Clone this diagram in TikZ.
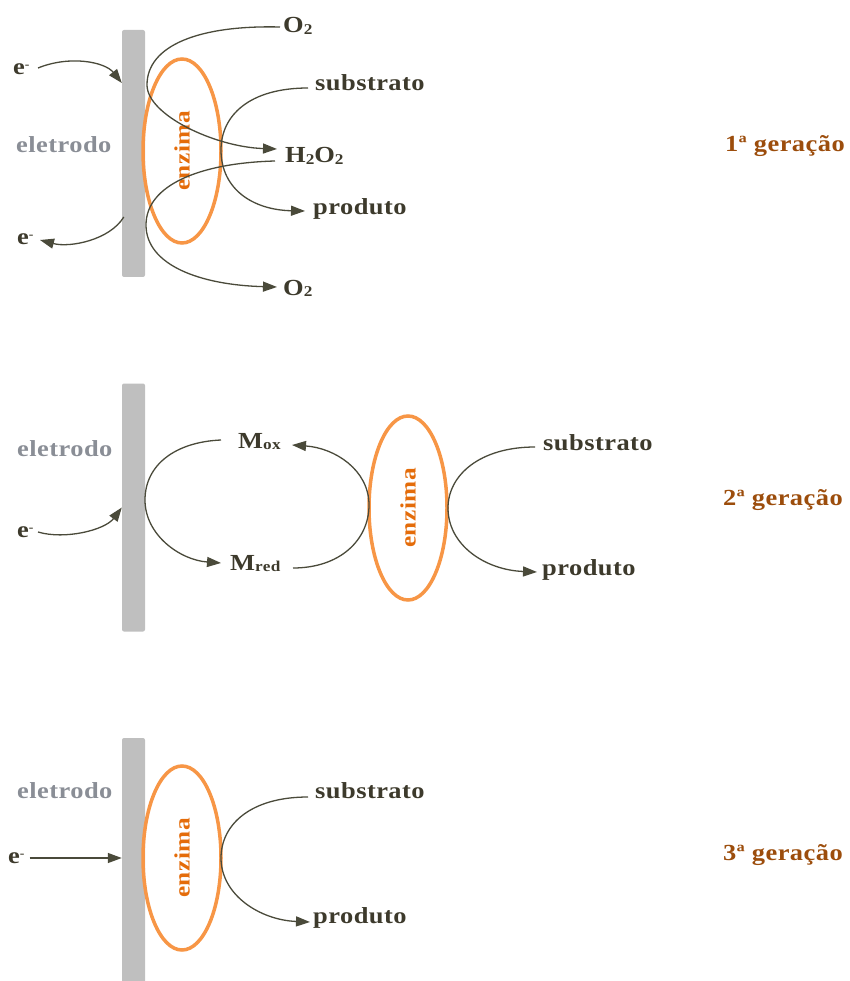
\documentclass[tikz,border=0pt]{standalone}
\usepackage{fontspec}
\setmainfont{Liberation Serif}[FakeStretch=1.15,LetterSpace=2]
\usetikzlibrary{arrows.meta,calc}
\definecolor{txt}{HTML}{3D3A2C}
\definecolor{lin}{HTML}{4A4A3A}
\definecolor{elec}{HTML}{BFBFBF}
\definecolor{eltxt}{HTML}{8A8E96}
\definecolor{enz}{HTML}{F79646}
\definecolor{enztxt}{HTML}{E46C0A}
\definecolor{gen}{HTML}{9C4D0C}
\newcommand{\sbx}[1]{\raisebox{-1.5pt}{\fontsize{15}{15}\selectfont #1}}
\newcommand{\elec}{e\raisebox{6pt}{\fontsize{12}{12}\selectfont -}}
\tikzset{
  lbl/.style={anchor=base west,inner sep=0pt,text=txt,font=\bfseries\fontsize{23}{23}\selectfont},
  eltext/.style={lbl,text=eltxt},
  gentext/.style={lbl,text=gen},
  electrode/.style={fill=elec,draw=none,rounded corners=2pt,minimum width=23pt,inner sep=0pt},
  enzyme/.style={draw=enz,line width=3.5pt,ellipse,minimum width=78pt,minimum height=184pt,inner sep=0pt},
  enzlabel/.style={text=enztxt,rotate=90,inner sep=0pt,font=\bfseries\fontsize{22}{22}\selectfont},
  conn/.style={draw=lin,line width=1.3pt},
  arr/.style={conn,-{Triangle[length=14pt,width=10pt]}}
}
\usetikzlibrary{shapes.geometric}
\begin{document}
\begin{tikzpicture}[x=1pt,y=-1pt]
\useasboundingbox (0,0) rectangle (850,981);
% ---------- panel 1 ----------
\node[electrode,minimum height=247pt] (el1) at (133.5,153.5) {};
\node[enzyme] (enz1) at (182,151) {};
\node[enzlabel] (enzl1) at (182,151) {enzima};
\node[eltext] (eletr1) at (16,153) {eletrodo};
\node[lbl] (e1t) at (13,75) {\elec};
\node[lbl] (e1b) at (17,245) {\elec};
\node[lbl] (o2t) at (283,33) {O\sbx{2}};
\node[lbl] (h2o2) at (285,163) {H\sbx{2}O\sbx{2}};
\node[lbl] (o2b) at (283,295) {O\sbx{2}};
\node[lbl] (sub1) at (315,91) {substrato};
\node[lbl] (prod1) at (313,215) {produto};
\node[gentext] (gen1) at (725,152) {1ª geração};
\draw[arr] ([shift={(-3,-6)}]o2t.base west) .. controls +(-80,-2) and +(0,-40) .. (147,85)
  .. controls +(0,30) and +(-62,-2) .. ([shift={(-8,-14)}]h2o2.base west);
\draw[arr] ([shift={(-10,-2)}]h2o2.base west) .. controls +(-75,2) and +(0,-40) .. (146,225)
  .. controls +(0,40) and +(-77,-2) .. ([shift={(-6,-8)}]o2b.base west);
\draw[arr] ([shift={(-7,-3)}]sub1.base west) .. controls +(-58,0) and +(0,-35) .. (221,150)
  .. controls +(0,40) and +(-51,-1) .. ([shift={(-8,-4)}]prod1.base west);
\draw[arr] (38,68) .. controls (70,55) and (105,62) .. ([shift={(0,-70.5)}]el1.west);
\draw[arr] ([shift={(2,63.5)}]el1.west) .. controls +(-14,23) and +(30,8) .. (40,240);
% ---------- panel 2 ----------
\node[electrode,minimum height=248pt] (el2) at (133.5,507.5) {};
\node[enzyme] (enz2) at (408,508) {};
\node[enzlabel] (enzl2) at (408,508) {enzima};
\node[eltext] (eletr2) at (17,456) {eletrodo};
\node[lbl] (e2) at (17,537) {\elec};
\node[lbl] (mox) at (238,448) {M\sbx{ox}};
\node[lbl] (mred) at (230,570) {M\sbx{red}};
\node[lbl] (sub2) at (543,450) {substrato};
\node[lbl] (prod2) at (542,575) {produto};
\node[gentext] (gen2) at (723,505) {2ª geração};
\draw[arr] ([shift={(-17,-8)}]mox.base west) .. controls +(-46,2) and +(0,-35) .. (145,500)
  .. controls +(0,35) and +(-41,-3) .. ([shift={(-9,-7)}]mred.base west);
\draw[arr] (293,568) .. controls (340,568) and (369,540) .. (369,505)
  .. controls (369,470) and (335,448) .. (292,445);
\draw[arr] (38,532) .. controls (65,540) and (105,530) .. (el2.west);
\draw[arr] ([shift={(-8,-3)}]sub2.base west) .. controls +(-55,0) and +(0,-33) .. (448,508)
  .. controls +(0,37) and +(-52,-2) .. ([shift={(-5,-3)}]prod2.base west);
% ---------- panel 3 ----------
\node[electrode,minimum height=250pt] (el3) at (133.5,863) {};
\node[enzyme] (enz3) at (182,858) {};
\node[enzlabel] (enzl3) at (182,858) {enzima};
\node[eltext] (eletr3) at (17,798) {eletrodo};
\node[lbl] (e3) at (8,863) {\elec};
\node[lbl] (sub3) at (315,798) {substrato};
\node[lbl] (prod3) at (313,923) {produto};
\node[gentext] (gen3) at (723,860) {3ª geração};
\draw[arr] ([xshift=5pt]e3.base east |- 0,858) -- (el3.west |- 0,858);
\draw[arr] ([shift={(-7,-1)}]sub3.base west) .. controls +(-58,0) and +(0,-33) .. (221,858)
  .. controls +(0,37) and +(-50,-2) .. ([shift={(-3,-1)}]prod3.base west);
\end{tikzpicture}
\end{document}
